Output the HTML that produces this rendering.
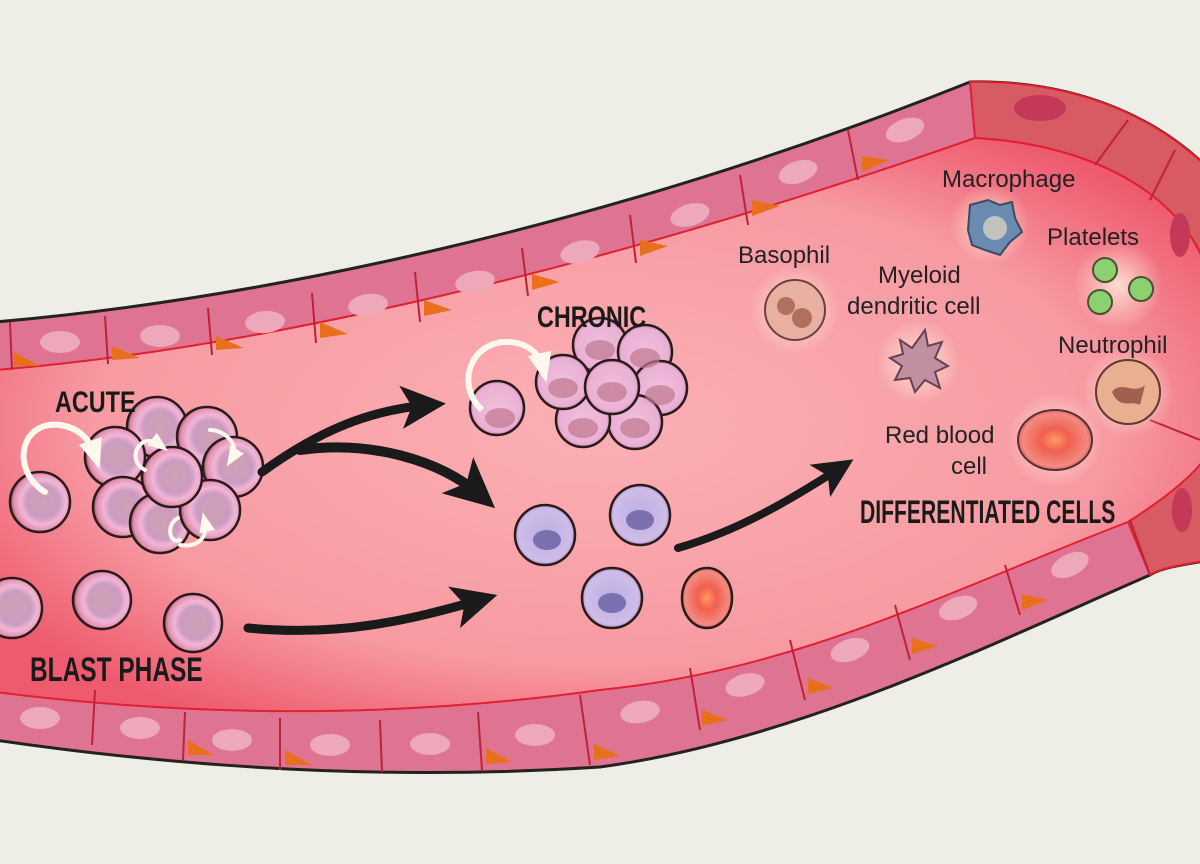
<!DOCTYPE html>
<html><head><meta charset="utf-8"><style>
html,body{margin:0;padding:0;background:#eeeee6;}
svg{display:block}
.lab{font-family:"Liberation Sans",sans-serif;font-size:24px;fill:#222;}
.hd{font-family:"Liberation Sans Narrow","Liberation Sans",sans-serif;font-weight:bold;fill:#1a1a1a;}
</style></head><body>
<svg width="1200" height="864" viewBox="0 0 1200 864" xmlns="http://www.w3.org/2000/svg">
<defs>
<radialGradient id="lum" cx="0.5" cy="0.5" r="0.6">
<stop offset="0" stop-color="#fbb0b4"/><stop offset="0.7" stop-color="#f79aa2"/><stop offset="1" stop-color="#ee5a6e"/>
</radialGradient>
<radialGradient id="blast" cx="0.55" cy="0.5" r="0.55">
<stop offset="0" stop-color="#d0a0b4"/><stop offset="0.5" stop-color="#cc9cc0"/><stop offset="0.68" stop-color="#f2b6d6"/><stop offset="0.88" stop-color="#e290b0"/><stop offset="1" stop-color="#8a5050"/>
</radialGradient>
<radialGradient id="chr" cx="0.5" cy="0.5" r="0.55">
<stop offset="0" stop-color="#f0c0dc"/><stop offset="0.8" stop-color="#eab0d4"/><stop offset="1" stop-color="#a86888"/>
</radialGradient>
<radialGradient id="pur" cx="0.5" cy="0.5" r="0.55">
<stop offset="0" stop-color="#b8b0e0"/><stop offset="0.8" stop-color="#d0bce8"/><stop offset="1" stop-color="#8870a8"/>
</radialGradient>
<radialGradient id="rbc" cx="0.5" cy="0.5" r="0.55">
<stop offset="0" stop-color="#ff9a60"/><stop offset="0.35" stop-color="#f06050"/><stop offset="0.8" stop-color="#f48a80"/><stop offset="1" stop-color="#c05050"/>
</radialGradient>
<radialGradient id="glow" cx="0.5" cy="0.5" r="0.5">
<stop offset="0" stop-color="#fff4e0" stop-opacity="0.8"/><stop offset="1" stop-color="#fff4e0" stop-opacity="0"/>
</radialGradient>
<marker id="ah" markerWidth="6" markerHeight="6" refX="3" refY="3" orient="auto" markerUnits="strokeWidth">
<path d="M0,0.6 L5,3 L0,5.4 L1.2,3 Z" fill="#1a1a1a"/></marker>
<marker id="wh" markerWidth="5" markerHeight="5" refX="2.5" refY="2.5" orient="auto" markerUnits="strokeWidth">
<path d="M0,0.5 L5,2.5 L0,4.5 Z" fill="#fff8ec"/></marker>
</defs>

<path d="M-5,322 C250,300 600,230 970,82 C1080,80 1160,120 1210,170 L1210,560 C1180,565 1160,568 1150,575 C1000,640 800,740 600,767 C400,780 200,770 -5,740 Z" fill="#de7492" stroke="#222" stroke-width="3"/>
<path d="M970,82 C1080,80 1160,120 1210,170 L1210,560 C1180,565 1160,568 1150,575 L1128,522 C1170,495 1200,470 1210,450 L1210,280 C1190,200 1100,145 975,138 Z" fill="#d85a62" stroke="#e02030" stroke-width="2"/>
<path d="M-5,370 C250,350 600,270 975,138 C1100,145 1190,200 1210,280 L1210,450 C1200,470 1170,495 1128,522 C950,590 800,670 600,690 C400,718 200,718 -5,692 Z" fill="url(#lum)" stroke="#e02030" stroke-width="2"/>

<!-- orange accents -->
<g fill="#e8701c">
<path d="M14,366 L14,352 L40,366 Z"/><path d="M112,360 L112,346 L140,358 Z"/><path d="M216,350 L216,336 L244,348 Z"/>
<path d="M320,338 L320,322 L348,334 Z"/><path d="M424,316 L424,300 L452,310 Z"/><path d="M532,290 L532,274 L560,282 Z"/>
<path d="M640,256 L640,240 L668,246 Z"/><path d="M752,216 L752,200 L780,206 Z"/><path d="M862,172 L862,156 L890,160 Z"/>
<path d="M188,755 L188,740 L214,755 Z"/><path d="M285,765 L285,750 L312,765 Z"/><path d="M486,764 L486,748 L512,762 Z"/>
<path d="M594,760 L594,744 L620,756 Z"/><path d="M702,726 L702,710 L728,720 Z"/><path d="M808,694 L808,678 L834,688 Z"/>
<path d="M912,654 L912,638 L938,646 Z"/><path d="M1022,610 L1022,594 L1048,600 Z"/>
</g>

<g stroke="#c0203a" stroke-width="2">
<line x1="10" y1="322" x2="12" y2="370"/><line x1="105" y1="316" x2="108" y2="364"/>
<line x1="208" y1="308" x2="212" y2="355"/><line x1="312" y1="293" x2="316" y2="343"/>
<line x1="415" y1="272" x2="420" y2="322"/><line x1="522" y1="248" x2="528" y2="296"/>
<line x1="630" y1="215" x2="636" y2="263"/><line x1="740" y1="175" x2="748" y2="225"/>
<line x1="848" y1="130" x2="858" y2="180"/><line x1="1128" y1="120" x2="1095" y2="165"/>
<line x1="1175" y1="150" x2="1150" y2="200"/>
<line x1="95" y1="690" x2="92" y2="745"/><line x1="185" y1="712" x2="183" y2="760"/>
<line x1="280" y1="718" x2="280" y2="770"/><line x1="380" y1="720" x2="382" y2="772"/>
<line x1="478" y1="712" x2="482" y2="770"/><line x1="580" y1="695" x2="590" y2="765"/>
<line x1="690" y1="668" x2="700" y2="730"/><line x1="790" y1="640" x2="805" y2="700"/>
<line x1="895" y1="605" x2="910" y2="660"/><line x1="1005" y1="565" x2="1020" y2="615"/>
<line x1="1130" y1="520" x2="1150" y2="575"/><line x1="1200" y1="440" x2="1150" y2="420"/>
</g>
<g fill="#eda8ba">
<ellipse cx="60" cy="342" rx="20" ry="11"/><ellipse cx="160" cy="336" rx="20" ry="11"/>
<ellipse cx="265" cy="322" rx="20" ry="11" transform="rotate(-5 265 322)"/><ellipse cx="368" cy="305" rx="20" ry="11" transform="rotate(-8 368 305)"/>
<ellipse cx="475" cy="282" rx="20" ry="11" transform="rotate(-10 475 282)"/><ellipse cx="580" cy="252" rx="20" ry="11" transform="rotate(-14 580 252)"/>
<ellipse cx="690" cy="215" rx="20" ry="11" transform="rotate(-16 690 215)"/><ellipse cx="798" cy="172" rx="20" ry="11" transform="rotate(-18 798 172)"/>
<ellipse cx="905" cy="130" rx="20" ry="11" transform="rotate(-20 905 130)"/>
<ellipse cx="40" cy="718" rx="20" ry="11"/><ellipse cx="140" cy="728" rx="20" ry="11"/>
<ellipse cx="232" cy="740" rx="20" ry="11"/><ellipse cx="330" cy="745" rx="20" ry="11"/>
<ellipse cx="430" cy="744" rx="20" ry="11"/><ellipse cx="535" cy="735" rx="20" ry="11"/>
<ellipse cx="640" cy="712" rx="20" ry="11" transform="rotate(-10 640 712)"/><ellipse cx="745" cy="685" rx="20" ry="11" transform="rotate(-15 745 685)"/>
<ellipse cx="850" cy="650" rx="20" ry="11" transform="rotate(-18 850 650)"/><ellipse cx="958" cy="608" rx="20" ry="11" transform="rotate(-20 958 608)"/>
<ellipse cx="1070" cy="565" rx="20" ry="11" transform="rotate(-25 1070 565)"/>
</g>
<g fill="#c43858">
<ellipse cx="1040" cy="108" rx="26" ry="13"/><ellipse cx="1180" cy="235" rx="10" ry="22"/><ellipse cx="1182" cy="510" rx="10" ry="22"/>
</g>

<g stroke="#2a1a1a" stroke-width="2.5" fill="url(#blast)">
<circle cx="40" cy="502" r="30"/>
<circle cx="157" cy="427" r="30"/><circle cx="207" cy="437" r="30"/><circle cx="233" cy="467" r="30"/>
<circle cx="115" cy="457" r="30"/><circle cx="123" cy="507" r="30"/><circle cx="160" cy="523" r="30"/>
<circle cx="210" cy="510" r="30"/><circle cx="172" cy="477" r="30"/>
<circle cx="12" cy="608" r="30"/><circle cx="102" cy="600" r="29"/><circle cx="193" cy="623" r="29"/>
</g>
<g fill="none" stroke="#fff8ec" stroke-width="6" stroke-linecap="round">
<path d="M45,492 C10,470 20,420 60,425 C80,428 90,440 95,455" marker-end="url(#wh)"/>
<path d="M145,470 C125,460 140,430 160,445" marker-end="url(#wh)" stroke-width="4"/>
<path d="M210,430 C225,430 240,445 232,458" marker-end="url(#wh)" stroke-width="4"/>
<path d="M180,540 C170,545 165,525 178,518" stroke-width="4"/>
<path d="M180,545 C200,548 208,535 205,522" marker-end="url(#wh)" stroke-width="4"/>
</g>

<g stroke="#2a1a1a" stroke-width="2.5" fill="url(#chr)">
<circle cx="497" cy="408" r="27"/>
<circle cx="600" cy="345" r="27"/><circle cx="645" cy="352" r="27"/>
<circle cx="660" cy="388" r="27"/><circle cx="635" cy="422" r="27"/><circle cx="583" cy="420" r="27"/>
<circle cx="563" cy="382" r="27"/><circle cx="612" cy="387" r="27"/>
</g>
<g fill="#c07890" opacity="0.7">
<ellipse cx="500" cy="418" rx="15" ry="10"/><ellipse cx="612" cy="392" rx="15" ry="10"/><ellipse cx="563" cy="388" rx="15" ry="10"/>
<ellipse cx="660" cy="395" rx="15" ry="10"/><ellipse cx="583" cy="428" rx="15" ry="10"/><ellipse cx="635" cy="428" rx="15" ry="10"/>
<ellipse cx="600" cy="350" rx="15" ry="10"/><ellipse cx="645" cy="358" rx="15" ry="10"/>
</g>
<path d="M482,410 C455,385 470,340 510,342 C530,344 540,355 543,368" fill="none" stroke="#fff8ec" stroke-width="6" marker-end="url(#wh)"/>

<g stroke="#2a1a1a" stroke-width="2.5" fill="url(#pur)">
<circle cx="545" cy="535" r="30"/><circle cx="640" cy="515" r="30"/><circle cx="612" cy="598" r="30"/>
</g>
<g fill="#7a70b0"><ellipse cx="547" cy="540" rx="14" ry="10"/><ellipse cx="640" cy="520" rx="14" ry="10"/><ellipse cx="612" cy="603" rx="14" ry="10"/></g>
<ellipse cx="707" cy="598" rx="25" ry="30" fill="url(#rbc)" stroke="#2a1a1a" stroke-width="2.5"/>

<g fill="none" stroke="#1a1a1a" stroke-linecap="round">
<path d="M262,472 C320,430 370,410 428,405" stroke-width="9" marker-end="url(#ah)"/>
<path d="M300,450 C370,440 440,460 480,495" stroke-width="10" marker-end="url(#ah)"/>
<path d="M248,628 C340,637 410,620 480,600" stroke-width="9" marker-end="url(#ah)"/>
<path d="M678,548 C740,530 790,500 840,468" stroke-width="8" marker-end="url(#ah)"/>
</g>

<g>
<circle cx="795" cy="310" r="45" fill="url(#glow)"/>
<circle cx="795" cy="310" r="30" fill="#e8b0a0" stroke="#6a4040" stroke-width="2"/>
<circle cx="786" cy="306" r="9" fill="#b07060"/><circle cx="802" cy="318" r="10" fill="#b07060"/>
<circle cx="990" cy="225" r="40" fill="url(#glow)"/>
<path d="M970,205 L988,200 L1000,205 L1012,202 L1015,218 L1022,232 L1010,242 L1000,255 L985,250 L972,245 L968,230 Z" fill="#6a8ab0" stroke="#3a4a60" stroke-width="2"/>
<circle cx="995" cy="228" r="12" fill="#d8d0c0" opacity="0.8"/>
<circle cx="1118" cy="285" r="45" fill="url(#glow)"/>
<g fill="#8cd070" stroke="#4a5030" stroke-width="2"><circle cx="1105" cy="270" r="12"/><circle cx="1141" cy="289" r="12"/><circle cx="1100" cy="302" r="12"/></g>
<circle cx="918" cy="362" r="42" fill="url(#glow)"/>
<path d="M900,340 L912,348 L925,330 L928,346 L942,342 L935,358 L948,366 L935,372 L940,388 L925,380 L915,392 L910,378 L895,380 L902,366 L890,358 L903,354 Z" fill="#c090a0" stroke="#6a4050" stroke-width="2"/>
<circle cx="1128" cy="392" r="46" fill="url(#glow)"/>
<circle cx="1128" cy="392" r="32" fill="#e8b090" stroke="#5a3a30" stroke-width="2"/>
<path d="M1112,392 C1120,380 1135,395 1145,385 L1140,405 C1130,400 1120,410 1112,392 Z" fill="#a06050"/>
<circle cx="1055" cy="440" r="48" fill="url(#glow)"/>
<ellipse cx="1055" cy="440" rx="37" ry="30" fill="url(#rbc)" stroke="#5a3030" stroke-width="2"/>
</g>

<text class="hd" x="55" y="412" font-size="30" transform="translate(55 0) scale(0.78 1) translate(-55 0)">ACUTE</text>
<text class="hd" x="537" y="327" font-size="30" transform="translate(537 0) scale(0.78 1) translate(-537 0)">CHRONIC</text>
<text class="hd" x="30" y="681" font-size="34" transform="translate(30 0) scale(0.72 1) translate(-30 0)">BLAST PHASE</text>
<text class="hd" x="860" y="523" font-size="32" transform="translate(860 0) scale(0.66 1) translate(-860 0)">DIFFERENTIATED CELLS</text>
<text class="lab" x="942" y="187">Macrophage</text>
<text class="lab" x="1047" y="245">Platelets</text>
<text class="lab" x="738" y="263">Basophil</text>
<text class="lab" x="878" y="283">Myeloid</text>
<text class="lab" x="847" y="314">dendritic cell</text>
<text class="lab" x="1058" y="353">Neutrophil</text>
<text class="lab" x="885" y="443">Red blood</text>
<text class="lab" x="951" y="474">cell</text>
</svg>
</body></html>
